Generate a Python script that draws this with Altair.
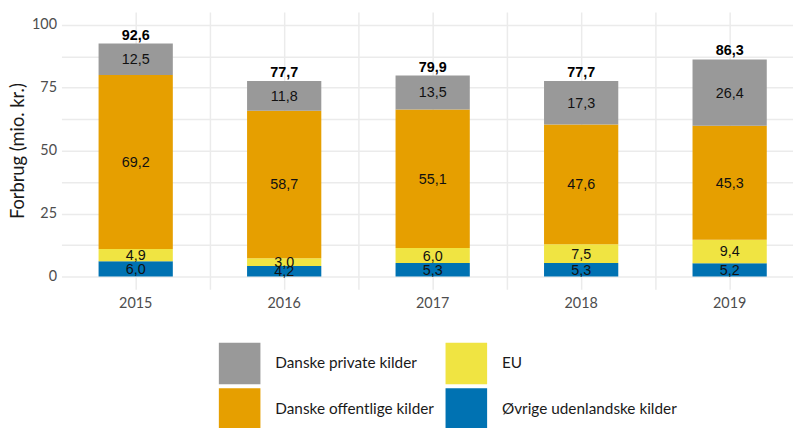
import altair as alt
import pandas as pd

years = ["2015", "2016", "2017", "2018", "2019"]
categories = ["Danske private kilder", "EU", "Danske offentlige kilder", "Øvrige udenlandske kilder"]
colors = ["#999999", "#F0E442", "#E69F00", "#0072B2"]
# stacking from bottom to top
stack_order = ["Øvrige udenlandske kilder", "EU", "Danske offentlige kilder", "Danske private kilder"]

ovrige = [6.0, 4.2, 5.3, 5.3, 5.2]
eu = [4.9, 3.0, 6.0, 7.5, 9.4]
offentlige = [69.2, 58.7, 55.1, 47.6, 45.3]
private = [12.5, 11.8, 13.5, 17.3, 26.4]
totals = [92.6, 77.7, 79.9, 77.7, 86.3]

series = {
    "Øvrige udenlandske kilder": ovrige,
    "EU": eu,
    "Danske offentlige kilder": offentlige,
    "Danske private kilder": private,
}


def fmt(v):
    return f"{v:.1f}".replace(".", ",")


rows = []
for i, yr in enumerate(years):
    cum = 0.0
    for k, name in enumerate(stack_order):
        v = series[name][i]
        rows.append({"year": yr, "kilde": name, "value": v, "ord": k,
                     "mid": cum + v / 2, "label": fmt(v)})
        cum += v
df = pd.DataFrame(rows)
tot = pd.DataFrame({"year": years, "total": totals, "label": [fmt(t) for t in totals]})

xscale = alt.Scale(domain=years, range=[0, 750], paddingInner=0.5, paddingOuter=0.25)
yscale = alt.Scale(domain=[-5.1, 105.1], nice=False, zero=False)

yaxis = alt.Axis(
    title="Forbrug (mio. kr.)",
    values=[0, 12.5, 25, 37.5, 50, 62.5, 75, 87.5, 100],
    labelExpr="datum.value % 25 === 0 ? format(datum.value, 'd') : ''",
    grid=True, gridColor="#ebebeb", gridWidth=1.5,
    ticks=False, domain=False,
    labelFont="Lato", labelFontSize=14.5, labelColor="#4d4d4d", labelPadding=5,
    titleFont="Lato", titleFontSize=18.5, titleFontWeight="normal", titleColor="#1a1a1a",
    titlePadding=4,
)

bars = alt.Chart(df).mark_bar().encode(
    x=alt.X("year:N", scale=xscale, sort=years,
            axis=alt.Axis(title=None, orient="bottom", grid=True, gridColor="#ebebeb",
                          gridWidth=1.5, bandPosition=0.5, ticks=False, domain=False,
                          labelFont="Lato", labelFontSize=14.5, labelColor="#4d4d4d",
                          labelPadding=7, labelAngle=0)),
    y=alt.Y("value:Q", scale=yscale, stack="zero", axis=yaxis),
    color=alt.Color("kilde:N", scale=alt.Scale(domain=categories, range=colors),
                    legend=alt.Legend(orient="none", legendX=159, legendY=334, columns=2,
                                      direction="horizontal", title=None,
                                      symbolType="square", symbolSize=1764,
                                      symbolStrokeWidth=0, symbolOpacity=1,
                                      labelFont="Lato", labelFontSize=15.5,
                                      labelColor="#1a1a1a", labelOffset=15,
                                      columnPadding=11, rowPadding=4, padding=0,
                                      labelLimit=300)),
    order=alt.Order("ord:Q", sort="ascending"),
)

seg_labels = alt.Chart(df).mark_text(
    font="Liberation Sans", fontSize=14.5, color="#111111", baseline="middle", dy=1
).encode(
    x=alt.X("year:N", scale=xscale, sort=years, axis=None),
    y=alt.Y("mid:Q", scale=yscale, axis=yaxis),
    text="label:N",
)

tot_labels = alt.Chart(tot).mark_text(
    font="Liberation Sans", fontSize=14.5, fontWeight="bold", color="#000000",
    baseline="alphabetic", dy=-4
).encode(
    x=alt.X("year:N", scale=xscale, sort=years,
            axis=alt.Axis(title=None, orient="top", grid=True, gridColor="#ebebeb",
                          gridWidth=1.5, bandPosition=1.5, ticks=False, domain=False,
                          labels=False)),
    y=alt.Y("total:Q", scale=yscale, axis=yaxis),
    text="label:N",
)

chart = alt.layer(bars, seg_labels, tot_labels).resolve_axis(x="independent").properties(
    width=739, height=280,
    autosize=alt.AutoSizeParams(type="none"),
    padding={"left": 54, "top": 2, "right": 0, "bottom": 138},
).configure_view(stroke=None)

chart.save("out.html", embed_options={"renderer": "svg", "actions": False})
